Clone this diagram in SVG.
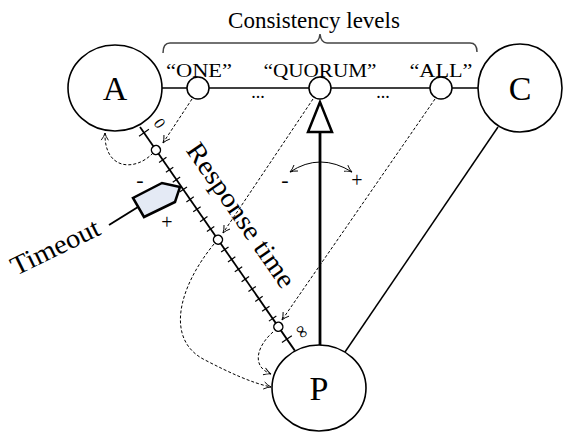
<svg xmlns="http://www.w3.org/2000/svg" width="563" height="432" viewBox="0 0 563 432">
<style>
text{font-family:"Liberation Serif","Times New Roman",serif;fill:#000}
.node{fill:#fff;stroke:#000;stroke-width:1.6}
.small{fill:#fff;stroke:#000;stroke-width:1.5}
.dash{fill:none;stroke:#000;stroke-width:1;stroke-dasharray:3,2;marker-end:url(#oa)}
.tick{stroke:#000;stroke-width:1.2}
.lbl{font-size:19px;text-anchor:middle}
.big{font-size:34px;text-anchor:middle}
</style>
<defs>
<marker id="oa" viewBox="0 0 10 10" refX="9" refY="5" markerWidth="9" markerHeight="9" orient="auto-start-reverse" markerUnits="userSpaceOnUse">
<path d="M1,1 Q5,4 9,5 Q5,6 1,9" fill="none" stroke="#000" stroke-width="1"/>
</marker>
</defs>
<text x="314" y="28" font-size="23" text-anchor="middle">Consistency levels</text>
<path d="M163,53 Q163,43 170,43 L313,43 Q319,43 320,34 Q321,43 327,43 L470,43 Q477,43 477,52" fill="none" stroke="#444" stroke-width="1.5"/>
<g id="connectors">
<line x1="160" y1="88" x2="480" y2="88" stroke="#000" stroke-width="1.5"/>
<line x1="498" y1="127" x2="345" y2="352" stroke="#000" stroke-width="1.5"/>
<line x1="320" y1="132" x2="320" y2="346" stroke="#000" stroke-width="2.8"/>
<polygon points="320,102 308,132 332,132" fill="#fff" stroke="#000" stroke-width="2.5"/>
<path d="M290,172 Q320,152 352,172" fill="none" stroke="#000" stroke-width="1" marker-start="url(#oa)" marker-end="url(#oa)"/>
<path class="dash" d="M192,99 L163,143"/>
<path class="dash" d="M153,153 C135,172 104,170 105,133"/>
<path class="dash" d="M313,99 L223,233"/>
<path class="dash" d="M214,244 C178,288 165,340 205,360 C230,373 252,383 271,387"/>
<path class="dash" d="M435,99 L282,320"/>
<path class="dash" d="M273,332 C258,345 250,366 271,374"/>
</g>
<g id="axis" transform="translate(140,127) rotate(55.3)">
<line x1="0" y1="0" x2="272" y2="0" stroke="#000" stroke-width="1.8"/>
<g class="tick">
<line x1="7" y1="-6" x2="7" y2="6"/>
<line x1="40" y1="-4.5" x2="40" y2="4.5"/>
<line x1="52" y1="-4.5" x2="52" y2="4.5"/>
<line x1="64" y1="-4.5" x2="64" y2="4.5"/>
<line x1="76" y1="-4.5" x2="76" y2="4.5"/>
<line x1="88" y1="-4.5" x2="88" y2="4.5"/>
<line x1="100" y1="-4.5" x2="100" y2="4.5"/>
<line x1="112" y1="-4.5" x2="112" y2="4.5"/>
<line x1="124" y1="-4.5" x2="124" y2="4.5"/>
<line x1="149" y1="-4.5" x2="149" y2="4.5"/>
<line x1="161" y1="-4.5" x2="161" y2="4.5"/>
<line x1="173" y1="-4.5" x2="173" y2="4.5"/>
<line x1="185" y1="-4.5" x2="185" y2="4.5"/>
<line x1="197" y1="-4.5" x2="197" y2="4.5"/>
<line x1="209" y1="-4.5" x2="209" y2="4.5"/>
<line x1="221" y1="-4.5" x2="221" y2="4.5"/>
<line x1="233" y1="-4.5" x2="233" y2="4.5"/>
<line x1="258" y1="-6" x2="258" y2="6"/>
</g>
<circle class="small" cx="28" cy="0" r="4.5"/>
<circle class="small" cx="137" cy="0" r="4.5"/>
<circle class="small" cx="243" cy="0" r="4.5"/>
<text x="4" y="-13" font-size="16">0</text>
<text x="254" y="-11" font-size="18">∞</text>
<text x="45" y="-24" font-size="27" textLength="170" lengthAdjust="spacingAndGlyphs">Response time</text>
</g>
<g id="timeout">
<line x1="138" y1="207" x2="109" y2="225" stroke="#000" stroke-width="2"/>
<polygon points="180,187 162,183 133,198 144,217 175,202" fill="#e4eaf5" stroke="#000" stroke-width="2.5" stroke-linejoin="miter"/>
<text x="140" y="187" font-size="22" text-anchor="middle">-</text>
<text x="167" y="229" font-size="20" text-anchor="middle">+</text>
<text transform="translate(16,276) rotate(-26)" font-size="27" textLength="96" lengthAdjust="spacingAndGlyphs">Timeout</text>
</g>
<g id="tweak">
<text x="285" y="187" font-size="22" text-anchor="middle">-</text>
<text x="357" y="187" font-size="20" text-anchor="middle">+</text>
</g>
<g id="A"><ellipse class="node" cx="115" cy="88" rx="47" ry="43"/><text class="big" x="115" y="100">A</text></g>
<g id="C"><ellipse class="node" cx="520" cy="88" rx="42" ry="44"/><text class="big" x="520" y="100">C</text></g>
<g id="P"><ellipse class="node" cx="319" cy="388" rx="47" ry="43"/><text class="big" x="319" y="400">P</text></g>
<g id="ONE"><circle class="small" cx="198" cy="88" r="11"/><text class="lbl" x="199" y="77" textLength="66" lengthAdjust="spacingAndGlyphs">“ONE”</text></g>
<g id="QUORUM"><circle class="small" cx="320" cy="88" r="11"/><text class="lbl" x="320" y="77" textLength="113" lengthAdjust="spacingAndGlyphs">“QUORUM”</text></g>
<g id="ALL"><circle class="small" cx="441" cy="88" r="11"/><text class="lbl" x="441" y="77" textLength="63" lengthAdjust="spacingAndGlyphs">“ALL”</text></g>
<text x="258" y="98" font-size="18" text-anchor="middle">...</text>
<text x="383" y="98" font-size="18" text-anchor="middle">...</text>
</svg>
